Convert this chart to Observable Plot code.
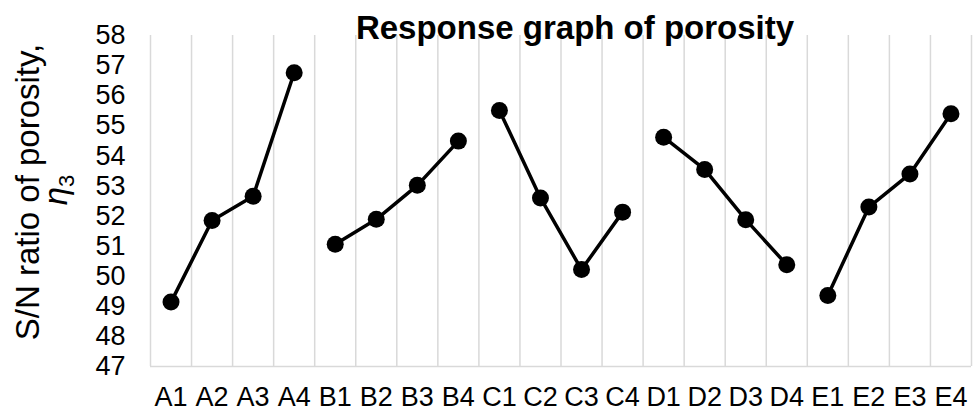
<!DOCTYPE html>
<html>
<head>
<meta charset="utf-8">
<script src="https://cdn.jsdelivr.net/npm/d3@7"></script>
<script src="https://cdn.jsdelivr.net/npm/@observablehq/plot@0.6"></script>
<style>
  html, body { margin: 0; padding: 0; background: #fff; }
  #chart svg { display: block; }
</style>
</head>
<body>
<div id="chart"></div>
<script>
const categories = ["A1","A2","A3","A4","B1","B2","B3","B4","C1","C2","C3","C4","D1","D2","D3","D4","E1","E2","E3","E4"];
const factorOf = ["A","A","A","A","B","B","B","B","C","C","C","C","D","D","D","D","E","E","E","E"];
const snRatio = [49.14, 51.85, 52.66, 56.76, 51.06, 51.89, 53.02, 54.49, 55.51, 52.60, 50.22, 52.13, 54.62, 53.55, 51.88, 50.38, 49.36, 52.30, 53.40, 55.40];
const yTicks = [47, 48, 49, 50, 51, 52, 53, 54, 55, 56, 57, 58];
const titleText = "Response graph of porosity";
const yLabelLine1 = "S/N ratio of porosity,";
const yLabelSymbol = "η";
const yLabelSub = "3";

const data = categories.map((c, i) => ({cat: c, pos: i + 0.5, factor: factorOf[i], value: snRatio[i]}));
const boundaries = d3.range(categories.length + 1);

const font = "'Liberation Sans', Arial, sans-serif";

const plot = Plot.plot({
  width: 973,
  height: 413,
  marginLeft: 150,
  marginRight: 2,
  marginTop: 35,
  marginBottom: 47,
  style: {fontFamily: font, fontSize: "27px", color: "#000", background: "#fff"},
  x: {type: "linear", domain: [0, categories.length]},
  y: {domain: [47, 58]},
  marks: [
    Plot.ruleX(boundaries, {x: d => d, stroke: "#d9d9d9", strokeWidth: 1.5}),
    Plot.ruleY([47], {stroke: "#d9d9d9", strokeWidth: 1.5}),
    Plot.axisY({ticks: yTicks, tickSize: 0, tickPadding: 25, tickFormat: d => String(d), label: null, fontSize: 27, fill: "#000"}),
    Plot.axisX({ticks: data.map(d => d.pos), tickSize: 0, tickPadding: 20, tickFormat: d => categories[Math.floor(d)], label: null, fontSize: 27, fill: "#000"}),
    Plot.line(data, {x: "pos", y: "value", z: "factor", stroke: "#000", strokeWidth: 3.5}),
    Plot.dot(data, {x: "pos", y: "value", r: 8.5, fill: "#000", stroke: "none"})
  ]
});

document.getElementById("chart").appendChild(plot);

const svg = d3.select(plot);
svg.append("text")
  .attr("x", 575)
  .attr("y", 39)
  .attr("text-anchor", "middle")
  .attr("font-family", font)
  .attr("font-weight", "bold")
  .attr("font-size", 33)
  .attr("fill", "#000")
  .text(titleText);

svg.append("text")
  .attr("transform", "translate(39,192) rotate(-90)")
  .attr("text-anchor", "middle")
  .attr("font-family", font)
  .attr("font-size", 33)
  .attr("fill", "#000")
  .text(yLabelLine1);

const t2 = svg.append("text")
  .attr("transform", "translate(67,190) rotate(-90)")
  .attr("text-anchor", "middle")
  .attr("font-family", font)
  .attr("font-size", 33)
  .attr("fill", "#000");
t2.append("tspan").attr("font-style", "italic").text(yLabelSymbol);
t2.append("tspan").attr("font-size", 22).attr("dy", 7).text(yLabelSub);
</script>
</body>
</html>
